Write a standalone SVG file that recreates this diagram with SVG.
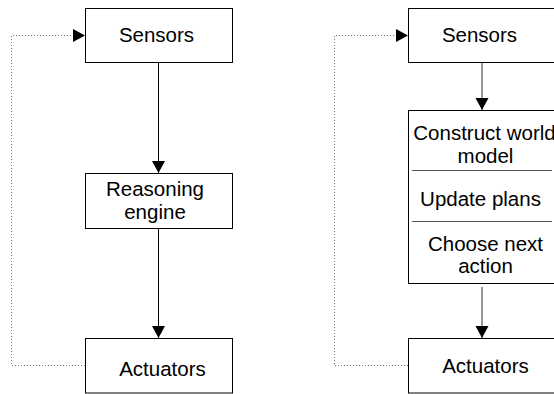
<svg xmlns="http://www.w3.org/2000/svg" width="554" height="394" viewBox="0 0 554 394">
<style>
.box{fill:#fff;stroke:#000;stroke-width:1}
.t{font-family:"Liberation Sans",Arial,sans-serif;font-size:20.5px;fill:#000;text-anchor:middle}
.flow{fill:none;stroke:#000;stroke-width:1}
.flow2{fill:none;stroke:#555;stroke-width:1.2}
.dot{fill:none;stroke:#777;stroke-width:1;stroke-dasharray:1 2}
.sep{stroke:#555;stroke-width:1}
</style>
<defs>
<marker id="ah" markerUnits="userSpaceOnUse" markerWidth="14" markerHeight="14" refX="12" refY="6.5" orient="auto">
<path d="M0,0 L12,6.5 L0,13 Z" fill="#000"/>
</marker>
</defs>
<g id="connectors">
<line class="flow" x1="158.5" y1="63" x2="158.5" y2="173" marker-end="url(#ah)"/>
<line class="flow" x1="158.5" y1="228.5" x2="158.5" y2="338" marker-end="url(#ah)"/>
<polyline class="dot" points="85,365.5 11.5,365.5 11.5,35.5 85,35.5" marker-end="url(#ah)"/>
<line class="flow2" x1="482" y1="63" x2="482" y2="110" marker-end="url(#ah)"/>
<line class="flow2" x1="482" y1="287" x2="482" y2="338" marker-end="url(#ah)"/>
<polyline class="dot" points="408,365.5 334.5,365.5 334.5,35.5 408,35.5" marker-end="url(#ah)"/>
</g>
<g id="sensors-left">
<rect class="box" x="85.5" y="8.5" width="147" height="54"/>
<text class="t" x="156.5" y="41.5">Sensors</text>
</g>
<g id="reasoning-engine">
<rect class="box" x="85.5" y="173.5" width="147" height="55"/>
<text class="t" x="155" y="195.5">Reasoning</text>
<text class="t" x="155" y="218.5">engine</text>
</g>
<g id="actuators-left">
<rect class="box" x="85.5" y="338.5" width="147" height="54.5"/>
<text class="t" x="162.5" y="375.5">Actuators</text>
</g>
<g id="sensors-right">
<rect class="box" x="408.5" y="8.5" width="147" height="54"/>
<text class="t" x="479.5" y="41.5">Sensors</text>
</g>
<g id="process-box">
<rect class="box" x="408.5" y="110.5" width="147" height="173"/>
<text class="t" x="484.5" y="140">Construct world</text>
<text class="t" x="485.5" y="163">model</text>
<line class="sep" x1="412" y1="170.5" x2="552" y2="170.5"/>
<text class="t" x="480.5" y="206">Update plans</text>
<line class="sep" x1="412" y1="221.5" x2="552" y2="221.5"/>
<text class="t" x="485.5" y="250.5">Choose next</text>
<text class="t" x="485.5" y="273">action</text>
</g>
<g id="actuators-right">
<rect class="box" x="408.5" y="338.5" width="147" height="54.5"/>
<text class="t" x="485.5" y="372.5">Actuators</text>
</g>
</svg>
